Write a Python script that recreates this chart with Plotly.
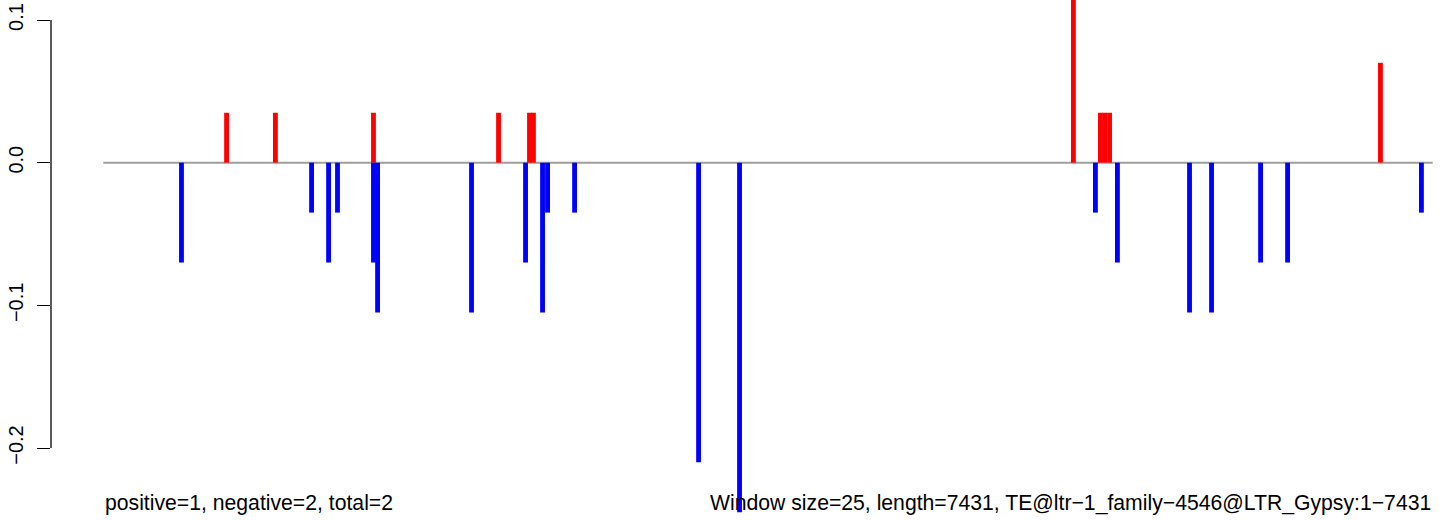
import plotly.graph_objects as go

# window positions (bp) and scores
pos_x = [690, 963, 1511, 2210, 2383, 2405, 5423, 5574, 5598, 5625, 7139]
pos_y = [0.035, 0.035, 0.035, 0.035, 0.035, 0.035, 0.14, 0.035, 0.035, 0.035, 0.07]

neg_x = [438, 1165, 1260, 1310, 1511, 1534, 2059, 2361, 2456, 2484, 2635,
         3328, 3557, 5546, 5669, 6072, 6195, 6469, 6620, 7368]
neg_y = [-0.07, -0.035, -0.07, -0.035, -0.07, -0.105, -0.105, -0.07, -0.105, -0.035, -0.035,
         -0.21, -0.245, -0.035, -0.07, -0.105, -0.105, -0.07, -0.07, -0.035]

seq_start, seq_len = 1, 7431
tick_vals = [-0.2, -0.1, 0.0, 0.1]
tick_text = ["\u22120.2", "\u22120.1", "0.0", "0.1"]
left_note = "positive=1, negative=2, total=2"
right_note = "Window size=25, length=7431, TE@ltr\u22121_family\u22124546@LTR_Gypsy:1\u22127431"

FONT = "Liberation Sans, Arial, sans-serif"
W, H = 1444, 520

fig = go.Figure()
fig.add_trace(go.Bar(x=pos_x, y=pos_y, width=27, marker=dict(color="#FF0000", line=dict(width=0)),
                     showlegend=False, hoverinfo="skip"))
fig.add_trace(go.Bar(x=neg_x, y=neg_y, width=27, marker=dict(color="#0000FF", line=dict(width=0)),
                     showlegend=False, hoverinfo="skip"))

# zero line across the sequence
fig.add_shape(type="line", x0=seq_start, x1=seq_len, y0=0, y1=0, xref="x", yref="y",
              line=dict(color="#9E9E9E", width=2), layer="below")
# R-style y axis line only spanning tick range
fig.add_shape(type="line", x0=0, x1=0, y0=tick_vals[0], y1=tick_vals[-1], xref="paper", yref="y",
              line=dict(color="black", width=1.3))

text_center_px = 503
fig.add_annotation(x=seq_start, y=(H - text_center_px) / H, xref="x", yref="paper", text=left_note,
                   showarrow=False, xanchor="left", yanchor="middle",
                   font=dict(family=FONT, size=21.2, color="black"))
fig.add_annotation(x=seq_len, y=(H - text_center_px) / H, xref="x", yref="paper", text=right_note,
                   showarrow=False, xanchor="right", yanchor="middle",
                   font=dict(family=FONT, size=21.2, color="black"))

fig.update_layout(
    width=W, height=H,
    margin=dict(l=51, r=0, t=0, b=0, autoexpand=False),
    plot_bgcolor="white", paper_bgcolor="white",
    barmode="overlay",
    xaxis=dict(range=[-291.3, 7494.2], visible=False, showgrid=False, zeroline=False,
               automargin=False),
    yaxis=dict(range=[-0.25046, 0.11402], tickvals=tick_vals, ticktext=tick_text,
               tickangle=-90, ticks="outside", ticklen=13, tickwidth=1.3, tickcolor="black",
               ticklabelstandoff=6,
               showline=False, showgrid=False, zeroline=False, automargin=False,
               tickfont=dict(family=FONT, size=20, color="black")),
)

fig.write_html("out.html", config={"displayModeBar": False},
               post_script="document.body.style.margin='0';")
